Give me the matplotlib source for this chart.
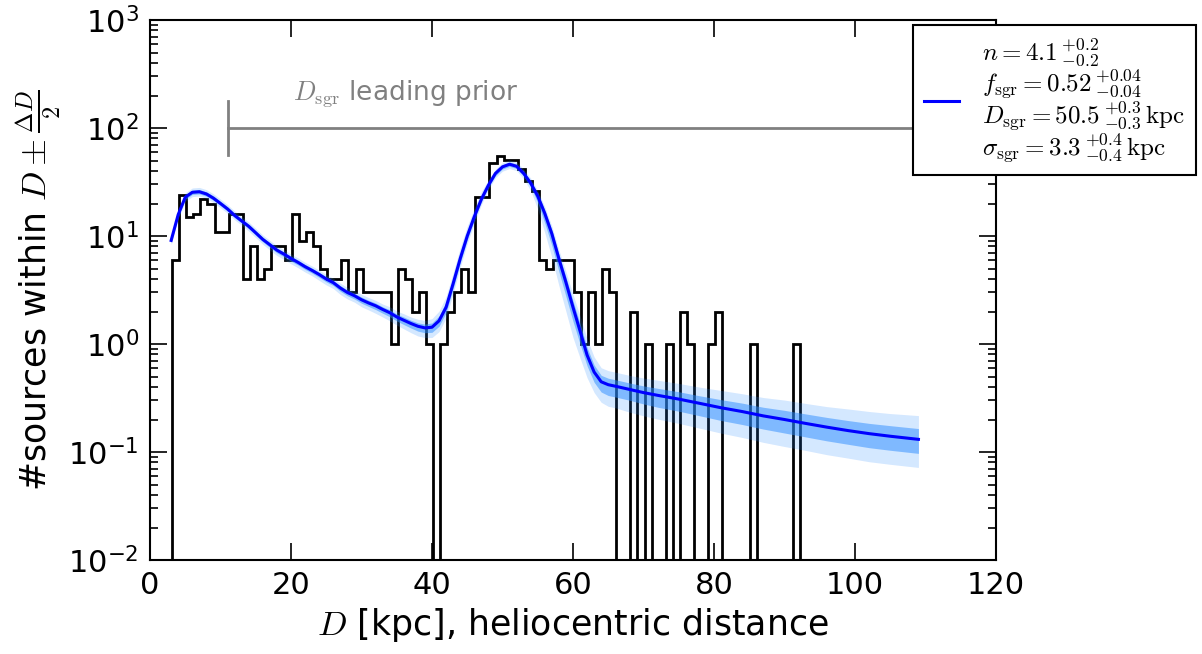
import numpy as np
import matplotlib
matplotlib.use("Agg")
import matplotlib.pyplot as plt

plt.rcParams['mathtext.fontset'] = 'cm'
plt.rcParams['font.family'] = ['DejaVu Sans']
plt.rcParams['axes.unicode_minus'] = False

# histogram of distances, 1 kpc bins
bin_edges = [3.15 + k for k in range(90)]
counts = [6, 24, 15, 16, 22, 20, 11, 11, 16, 16,
          4, 8, 4, 5, 8, 8, 6, 16, 9, 11,
          8, 5, 4, 4, 6, 3, 5, 3, 3, 3,
          3, 1, 5, 4, 2, 3, 1, 0, 1, 2,
          3, 5, 3, 23, 23, 47, 55, 51, 51, 42,
          32, 26, 6, 5, 6, 6, 6, 3, 1, 3,
          1, 5, 3, 0, 0, 2, 0, 1, 0, 0,
          1, 0, 2, 1, 0, 0, 1, 2, 0, 0,
          0, 0, 1, 0, 0, 0, 0, 0, 1]

# best-fit model curve
D_model = [3, 4, 5, 6, 7, 8, 9, 10, 11, 12, 13, 14, 15, 16, 17, 18, 19, 20,
           21, 22, 23, 24, 25, 26, 27, 28, 29, 30, 31, 32, 33, 34, 35, 36,
           37, 38, 39, 40, 41, 42, 43, 44, 45, 46, 47, 48, 49, 50, 51, 52,
           53, 54, 55, 56, 57, 58, 59, 60, 61, 62, 63, 64, 65, 66,
           68, 70, 72, 75, 78, 81, 84, 87, 90, 93, 96, 99, 102, 105, 109]
model = [9.1, 15.8, 22.9, 25.4, 25.7, 24.5, 22.4, 20.0, 17.8, 15.5, 13.8,
         12.3, 10.7, 9.3, 8.3, 7.4, 6.8, 6.2, 5.7, 5.2, 4.8, 4.4, 4.0, 3.7,
         3.3, 3.0, 2.8, 2.57, 2.4, 2.26, 2.09, 1.95, 1.78, 1.66, 1.55, 1.46,
         1.41, 1.43, 1.64, 2.19, 3.63, 6.17, 10.0, 15.1, 21.9, 29.5, 38.0,
         43.7, 46.2, 44.2, 38.0, 30.9, 23.4, 16.2, 10.5, 6.17, 3.72, 2.19,
         1.32, 0.79, 0.55, 0.447, 0.42, 0.407,
         0.38, 0.355, 0.335, 0.309, 0.282, 0.257, 0.237, 0.216, 0.2, 0.184,
         0.17, 0.158, 0.148, 0.14, 0.131]

# spread of the posterior realisations (dex above / below the best fit)
outer_hi = [0.04, 0.04, 0.04, 0.04, 0.04, 0.04, 0.04, 0.04, 0.04, 0.04, 0.04,
            0.04, 0.04, 0.04, 0.04, 0.04, 0.04, 0.04, 0.04, 0.04, 0.04, 0.04,
            0.04, 0.04, 0.045, 0.045, 0.045, 0.05, 0.05, 0.05, 0.05, 0.055,
            0.055, 0.06, 0.06, 0.065, 0.07, 0.08, 0.09, 0.10, 0.10, 0.10,
            0.09, 0.08, 0.07, 0.05, 0.04, 0.04, 0.04, 0.04, 0.04, 0.045, 0.05,
            0.06, 0.07, 0.08, 0.10, 0.12, 0.14, 0.15, 0.14, 0.13, 0.13, 0.13,
            0.13, 0.135, 0.14, 0.145, 0.15, 0.16, 0.165, 0.17, 0.18, 0.185,
            0.19, 0.2, 0.205, 0.21, 0.22]
outer_lo = [0.04, 0.04, 0.04, 0.04, 0.04, 0.04, 0.04, 0.04, 0.04, 0.04, 0.04,
            0.045, 0.045, 0.045, 0.05, 0.05, 0.05, 0.05, 0.05, 0.05, 0.05,
            0.055, 0.055, 0.055, 0.06, 0.06, 0.06, 0.065, 0.065, 0.07, 0.07,
            0.075, 0.075, 0.08, 0.085, 0.09, 0.09, 0.095, 0.10, 0.10, 0.09,
            0.08, 0.07, 0.06, 0.05, 0.04, 0.04, 0.04, 0.04, 0.04, 0.05, 0.07,
            0.12, 0.18, 0.22, 0.25, 0.27, 0.28, 0.25, 0.21, 0.19, 0.19, 0.2,
            0.2, 0.21, 0.215, 0.22, 0.225, 0.23, 0.235, 0.24, 0.245, 0.25,
            0.25, 0.255, 0.255, 0.26, 0.26, 0.26]
inner_hi = [0.02, 0.02, 0.02, 0.02, 0.02, 0.02, 0.02, 0.02, 0.02, 0.02, 0.02,
            0.02, 0.02, 0.02, 0.02, 0.02, 0.02, 0.02, 0.02, 0.02, 0.02, 0.02,
            0.02, 0.02, 0.022, 0.022, 0.022, 0.025, 0.025, 0.025, 0.025,
            0.027, 0.027, 0.03, 0.03, 0.032, 0.035, 0.04, 0.045, 0.05, 0.05,
            0.05, 0.045, 0.04, 0.035, 0.025, 0.02, 0.02, 0.02, 0.02, 0.02,
            0.022, 0.025, 0.03, 0.035, 0.04, 0.05, 0.06, 0.07, 0.07, 0.065,
            0.06, 0.06, 0.06, 0.06, 0.062, 0.065, 0.068, 0.07, 0.075, 0.078,
            0.08, 0.085, 0.088, 0.09, 0.093, 0.095, 0.098, 0.1]
inner_lo = [0.02, 0.02, 0.02, 0.02, 0.02, 0.02, 0.02, 0.02, 0.02, 0.02, 0.02,
            0.022, 0.022, 0.022, 0.025, 0.025, 0.025, 0.025, 0.025, 0.025,
            0.025, 0.027, 0.027, 0.027, 0.03, 0.03, 0.03, 0.032, 0.032, 0.035,
            0.035, 0.037, 0.037, 0.04, 0.042, 0.045, 0.045, 0.047, 0.05, 0.05,
            0.045, 0.04, 0.035, 0.03, 0.025, 0.02, 0.02, 0.02, 0.02, 0.02,
            0.025, 0.035, 0.06, 0.09, 0.11, 0.12, 0.13, 0.13, 0.12, 0.1, 0.095,
            0.095, 0.1, 0.1, 0.1, 0.105, 0.11, 0.112, 0.115, 0.118, 0.12,
            0.122, 0.125, 0.125, 0.127, 0.127, 0.13, 0.13, 0.13]

# D_sgr leading prior
prior_x = [11.0, 130.0]
prior_y = 100.0
prior_cap = [56.0, 178.0]

legend_label = ("$n = 4.1\\,^{+0.2}_{-0.2}$\n"
                "$f_{\\rm sgr} = 0.52\\,^{+0.04}_{-0.04}$\n"
                "$D_{\\rm sgr} = 50.5\\,^{+0.3}_{-0.3}\\,{\\rm kpc}$\n"
                "$\\sigma_{\\rm sgr} = 3.3\\,^{+0.4}_{-0.4}\\,{\\rm kpc}$")

fig = plt.figure(figsize=(12.02, 6.54), dpi=100)
ax = fig.add_axes([0.1248, 0.1437, 0.7038, 0.8257])

ax.stairs(counts, bin_edges, baseline=0, color='k', lw=2.0, zorder=3)

D = np.array(D_model)
m = np.array(model)
ax.fill_between(D, m * 10**(-np.array(outer_lo)), m * 10**np.array(outer_hi),
                color='#2b8cff', alpha=0.2, lw=0, zorder=4)
ax.fill_between(D, m * 10**(-np.array(inner_lo)), m * 10**np.array(inner_hi),
                color='#2b8cff', alpha=0.5, lw=0, zorder=4)
ax.plot(D, m, color='#0000ff', lw=2.2, zorder=5, label=legend_label)

ax.plot(prior_x, [prior_y, prior_y], color='gray', lw=2, zorder=2)
ax.plot([prior_x[0], prior_x[0]], prior_cap, color='gray', lw=2, zorder=2)
ax.text(20.3, 150, '$D_{\\rm sgr}$ leading prior', color='gray', fontsize=19,
        ha='left', va='bottom')

ax.set_yscale('log')
ax.set_xlim(0, 120)
ax.set_ylim(1e-2, 1e3)
ax.set_xticks([0, 20, 40, 60, 80, 100, 120])
ax.tick_params(which='both', direction='in', top=True, right=True,
               labelsize=22, width=1.2)
ax.tick_params(which='major', length=12, pad=8)
ax.tick_params(which='minor', length=6)
for s in ax.spines.values():
    s.set_linewidth(1.5)

ax.set_xlabel('$D$ [kpc], heliocentric distance', fontsize=25)
ax.set_ylabel('#sources within $D \\pm \\frac{\\Delta D}{2}$', fontsize=25)

leg = ax.legend(loc='upper left', bbox_to_anchor=(0.902, 0.99), fontsize=18,
                fancybox=False, framealpha=1, handlelength=1.4,
                borderaxespad=0, borderpad=0.45, handletextpad=0.9)
leg.get_frame().set_edgecolor('k')
leg.get_frame().set_linewidth(1.5)
for t in leg.get_texts():
    t.set_linespacing(0.95)

fig.savefig('out.png', dpi=100)
